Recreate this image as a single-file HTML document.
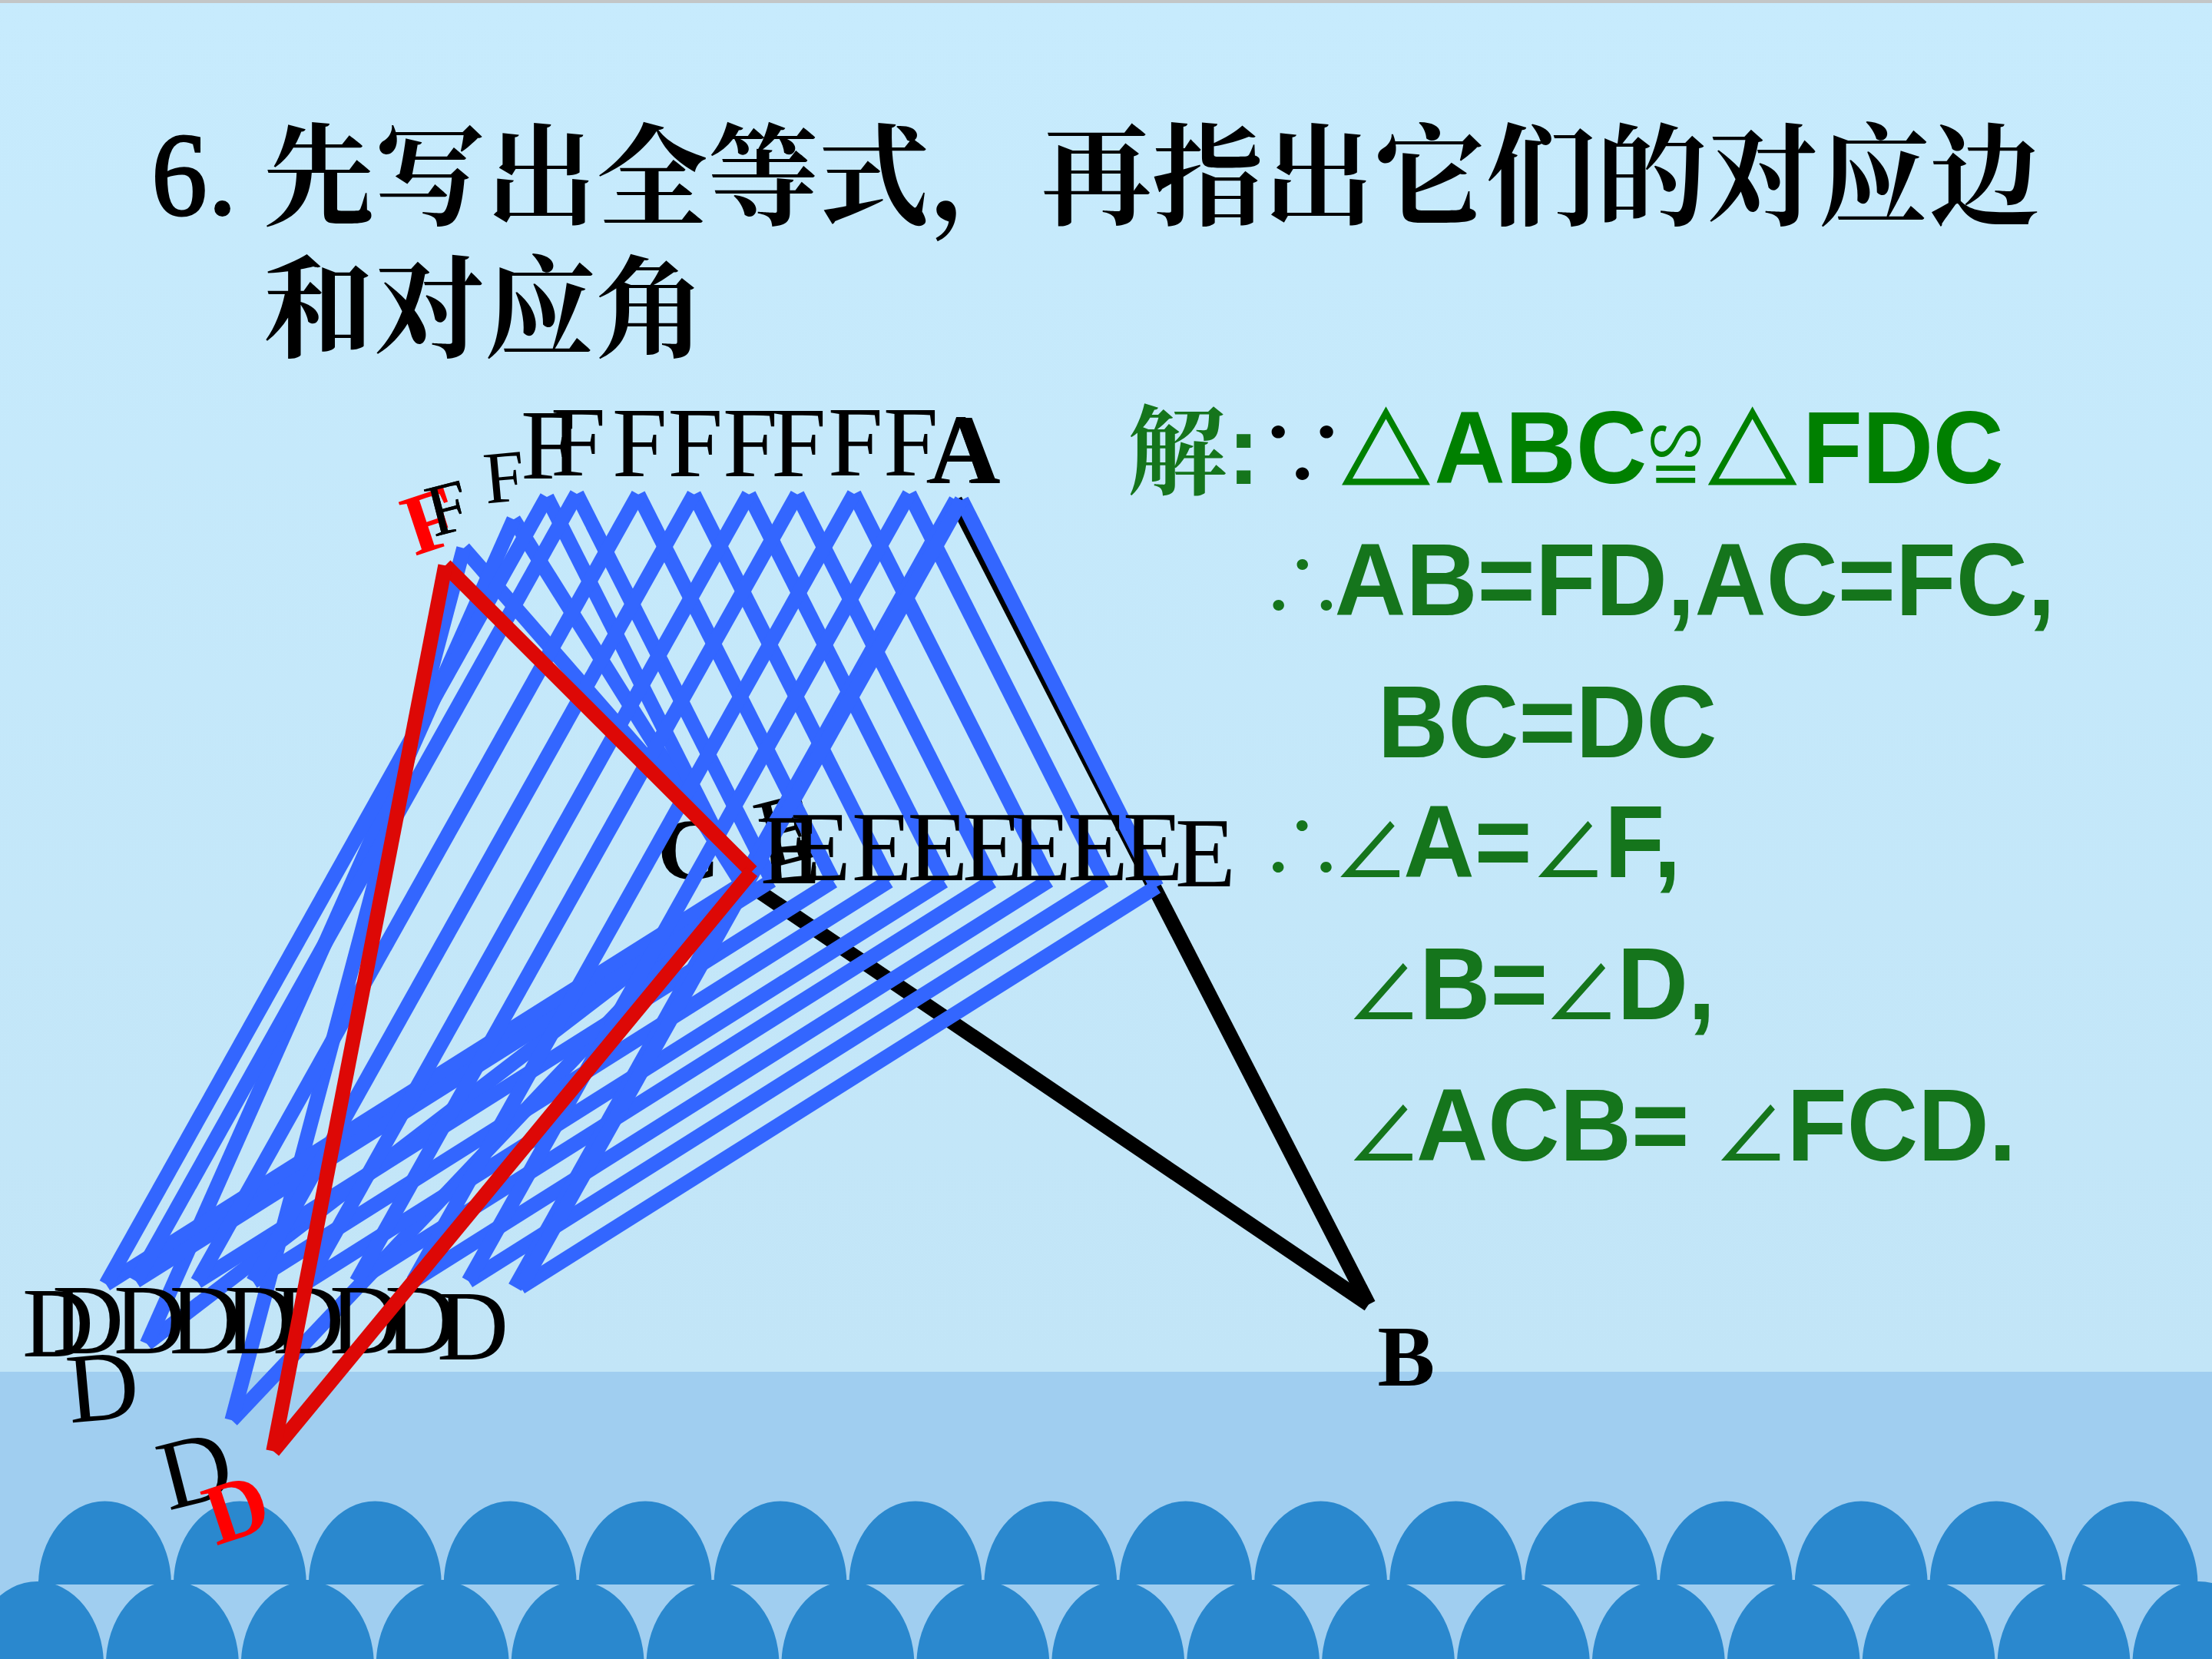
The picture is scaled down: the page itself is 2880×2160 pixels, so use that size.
<!DOCTYPE html>
<html lang="zh-CN"><head><meta charset="utf-8"><title>全等三角形 练习6</title>
<style>
html,body{margin:0;padding:0;width:2880px;height:2160px;overflow:hidden;background:#C6E9FB;}
svg{display:block}
text{white-space:pre}
</style></head><body>
<svg width="2880" height="2160" viewBox="0 0 2880 2160">
<defs><linearGradient id="sky" x1="0" y1="0" x2="0" y2="1"><stop offset="0" stop-color="#C7EBFD"/><stop offset="1" stop-color="#C2E5F7"/></linearGradient></defs>
<rect x="0" y="0" width="2880" height="1786" fill="url(#sky)"/>
<rect x="0" y="0" width="2880" height="4" fill="#C3C6C7"/>
<rect x="0" y="1786" width="2880" height="374" fill="#A0CEF0"/>
<path d="M-38.0 2165 V2167.5 A86.5 108.5 0 0 1 135.0 2167.5 V2165 Z M137.9 2165 V2167.5 A86.5 108.5 0 0 1 310.9 2167.5 V2165 Z M313.8 2165 V2167.5 A86.5 108.5 0 0 1 486.8 2167.5 V2165 Z M489.7 2165 V2167.5 A86.5 108.5 0 0 1 662.7 2167.5 V2165 Z M665.6 2165 V2167.5 A86.5 108.5 0 0 1 838.6 2167.5 V2165 Z M841.5 2165 V2167.5 A86.5 108.5 0 0 1 1014.5 2167.5 V2165 Z M1017.4 2165 V2167.5 A86.5 108.5 0 0 1 1190.4 2167.5 V2165 Z M1193.3 2165 V2167.5 A86.5 108.5 0 0 1 1366.3 2167.5 V2165 Z M1369.2 2165 V2167.5 A86.5 108.5 0 0 1 1542.2 2167.5 V2165 Z M1545.1 2165 V2167.5 A86.5 108.5 0 0 1 1718.1 2167.5 V2165 Z M1721.0 2165 V2167.5 A86.5 108.5 0 0 1 1894.0 2167.5 V2165 Z M1896.9 2165 V2167.5 A86.5 108.5 0 0 1 2069.9 2167.5 V2165 Z M2072.8 2165 V2167.5 A86.5 108.5 0 0 1 2245.8 2167.5 V2165 Z M2248.7 2165 V2167.5 A86.5 108.5 0 0 1 2421.7 2167.5 V2165 Z M2424.6 2165 V2167.5 A86.5 108.5 0 0 1 2597.6 2167.5 V2165 Z M2600.5 2165 V2167.5 A86.5 108.5 0 0 1 2773.5 2167.5 V2165 Z M2776.4 2165 V2167.5 A86.5 108.5 0 0 1 2949.4 2167.5 V2165 Z M2952.3 2165 V2167.5 A86.5 108.5 0 0 1 3125.3 2167.5 V2165 Z" fill="#2A88CE"/>
<path d="M50.0 2063 A86.5 108.5 0 0 1 223.0 2063 Z M225.9 2063 A86.5 108.5 0 0 1 398.9 2063 Z M401.8 2063 A86.5 108.5 0 0 1 574.8 2063 Z M577.7 2063 A86.5 108.5 0 0 1 750.7 2063 Z M753.6 2063 A86.5 108.5 0 0 1 926.6 2063 Z M929.5 2063 A86.5 108.5 0 0 1 1102.5 2063 Z M1105.4 2063 A86.5 108.5 0 0 1 1278.4 2063 Z M1281.3 2063 A86.5 108.5 0 0 1 1454.3 2063 Z M1457.2 2063 A86.5 108.5 0 0 1 1630.2 2063 Z M1633.1 2063 A86.5 108.5 0 0 1 1806.1 2063 Z M1809.0 2063 A86.5 108.5 0 0 1 1982.0 2063 Z M1984.9 2063 A86.5 108.5 0 0 1 2157.9 2063 Z M2160.8 2063 A86.5 108.5 0 0 1 2333.8 2063 Z M2336.7 2063 A86.5 108.5 0 0 1 2509.7 2063 Z M2512.6 2063 A86.5 108.5 0 0 1 2685.6 2063 Z M2688.5 2063 A86.5 108.5 0 0 1 2861.5 2063 Z" fill="#2A88CE"/>
<rect x="50" y="2057" width="2810" height="6" fill="#2A88CE"/>
<text x="343.3" y="281.5" font-family="'Liberation Serif', 'Noto Serif CJK SC', serif" font-weight="bold" font-size="144" letter-spacing="0.6" fill="#000">先写出全等式，再指出它们的对应边</text>
<text x="343.1" y="453.5" font-family="'Liberation Serif', 'Noto Serif CJK SC', serif" font-weight="bold" font-size="144" fill="#000">和对应角</text>
<text transform="matrix(1.4471 0 0 1.5403 197.29 279.46)" font-family="'Liberation Serif', 'Noto Serif CJK SC', serif" font-weight="normal" font-size="100" fill="#000" stroke="#000" stroke-width="2">6</text>
<text transform="matrix(1.2813 0 0 1.2875 273.53 279.67)" font-family="'Liberation Serif', 'Noto Serif CJK SC', serif" font-weight="bold" font-size="100" fill="#000">.</text>
<line x1="1243.5" y1="651.0" x2="1782.0" y2="1698.4" stroke="#000" stroke-width="19"/>
<line x1="985.0" y1="1158.5" x2="1782.0" y2="1698.4" stroke="#000" stroke-width="19"/>
<text x="856.1" y="1143.5" font-family="'Liberation Serif', 'Noto Serif CJK SC', serif" font-size="112" font-weight="bold" fill="#000">C</text>
<text x="1793.5" y="1803.5" font-family="'Liberation Serif', 'Noto Serif CJK SC', serif" font-size="112" font-weight="bold" fill="#000">B</text>
<line x1="603.7" y1="713.8" x2="974.6" y2="1138.6" stroke="#3366FF" stroke-width="19"/>
<line x1="974.6" y1="1138.6" x2="301.8" y2="1849.1" stroke="#3366FF" stroke-width="19"/>
<line x1="301.8" y1="1849.1" x2="603.7" y2="713.8" stroke="#3366FF" stroke-width="19"/>
<line x1="668.8" y1="676.2" x2="967.9" y2="1154.3" stroke="#3366FF" stroke-width="19"/>
<line x1="967.9" y1="1154.3" x2="191.2" y2="1749.5" stroke="#3366FF" stroke-width="19"/>
<line x1="191.2" y1="1749.5" x2="668.8" y2="676.2" stroke="#3366FF" stroke-width="19"/>
<text transform="translate(564.8 699.0) rotate(-14.36)" font-family="'Liberation Serif', 'Noto Serif CJK SC', serif" font-size="96" font-weight="normal" fill="#000">F</text>
<text transform="translate(997.6 1131.7) rotate(-14.36)" font-family="'Liberation Serif', 'Noto Serif CJK SC', serif" font-size="129" font-weight="normal" fill="#000">E</text>
<text transform="translate(219.4 1966.7) rotate(-14.36)" font-family="'Liberation Serif', 'Noto Serif CJK SC', serif" font-size="129" font-weight="normal" fill="#000">D</text>
<text transform="translate(632.7 655.4) rotate(-5.26)" font-family="'Liberation Serif', 'Noto Serif CJK SC', serif" font-size="96" font-weight="normal" fill="#000">F</text>
<text transform="translate(991.7 1151.1) rotate(-5.26)" font-family="'Liberation Serif', 'Noto Serif CJK SC', serif" font-size="129" font-weight="normal" fill="#000">E</text>
<text transform="translate(91.2 1852.6) rotate(-5.26)" font-family="'Liberation Serif', 'Noto Serif CJK SC', serif" font-size="129" font-weight="normal" fill="#000">D</text>
<line x1="712.0" y1="647.0" x2="966.0" y2="1150.5" stroke="#3366FF" stroke-width="19"/>
<line x1="966.0" y1="1150.5" x2="138.0" y2="1672.0" stroke="#3366FF" stroke-width="19"/>
<line x1="138.0" y1="1672.0" x2="712.0" y2="647.0" stroke="#3366FF" stroke-width="19"/>
<line x1="751.0" y1="643.0" x2="1005.0" y2="1146.5" stroke="#3366FF" stroke-width="19"/>
<line x1="1005.0" y1="1146.5" x2="177.0" y2="1668.0" stroke="#3366FF" stroke-width="19"/>
<line x1="177.0" y1="1668.0" x2="751.0" y2="643.0" stroke="#3366FF" stroke-width="19"/>
<line x1="831.0" y1="643.7" x2="1085.0" y2="1147.2" stroke="#3366FF" stroke-width="19"/>
<line x1="1085.0" y1="1147.2" x2="257.0" y2="1668.7" stroke="#3366FF" stroke-width="19"/>
<line x1="257.0" y1="1668.7" x2="831.0" y2="643.7" stroke="#3366FF" stroke-width="19"/>
<line x1="903.5" y1="643.7" x2="1157.5" y2="1147.2" stroke="#3366FF" stroke-width="19"/>
<line x1="1157.5" y1="1147.2" x2="329.5" y2="1668.7" stroke="#3366FF" stroke-width="19"/>
<line x1="329.5" y1="1668.7" x2="903.5" y2="643.7" stroke="#3366FF" stroke-width="19"/>
<line x1="975.0" y1="643.7" x2="1229.0" y2="1147.2" stroke="#3366FF" stroke-width="19"/>
<line x1="1229.0" y1="1147.2" x2="401.0" y2="1668.7" stroke="#3366FF" stroke-width="19"/>
<line x1="401.0" y1="1668.7" x2="975.0" y2="643.7" stroke="#3366FF" stroke-width="19"/>
<line x1="1038.0" y1="643.7" x2="1292.0" y2="1147.2" stroke="#3366FF" stroke-width="19"/>
<line x1="1292.0" y1="1147.2" x2="464.0" y2="1668.7" stroke="#3366FF" stroke-width="19"/>
<line x1="464.0" y1="1668.7" x2="1038.0" y2="643.7" stroke="#3366FF" stroke-width="19"/>
<line x1="1112.0" y1="643.0" x2="1366.0" y2="1146.5" stroke="#3366FF" stroke-width="19"/>
<line x1="1366.0" y1="1146.5" x2="538.0" y2="1668.0" stroke="#3366FF" stroke-width="19"/>
<line x1="538.0" y1="1668.0" x2="1112.0" y2="643.0" stroke="#3366FF" stroke-width="19"/>
<line x1="1184.0" y1="643.0" x2="1438.0" y2="1146.5" stroke="#3366FF" stroke-width="19"/>
<line x1="1438.0" y1="1146.5" x2="610.0" y2="1668.0" stroke="#3366FF" stroke-width="19"/>
<line x1="610.0" y1="1668.0" x2="1184.0" y2="643.0" stroke="#3366FF" stroke-width="19"/>
<line x1="1244.5" y1="651.0" x2="670.5" y2="1676.0" stroke="#3366FF" stroke-width="19"/>
<line x1="1252.0" y1="651.0" x2="1506.0" y2="1154.5" stroke="#3366FF" stroke-width="19"/>
<line x1="1506.0" y1="1154.5" x2="678.0" y2="1676.0" stroke="#3366FF" stroke-width="19"/>
<line x1="678.0" y1="1676.0" x2="1252.0" y2="651.0" stroke="#3366FF" stroke-width="19"/>
<text x="678.0" y="623.0" font-family="'Liberation Serif', 'Noto Serif CJK SC', serif" font-size="129" font-weight="normal" fill="#000">F</text>
<text x="990.0" y="1149.5" font-family="'Liberation Serif', 'Noto Serif CJK SC', serif" font-size="129" font-weight="normal" fill="#000">E</text>
<text x="29.0" y="1765.5" font-family="'Liberation Serif', 'Noto Serif CJK SC', serif" font-size="129" font-weight="normal" fill="#000">D</text>
<text x="717.0" y="619.0" font-family="'Liberation Serif', 'Noto Serif CJK SC', serif" font-size="129" font-weight="normal" fill="#000">F</text>
<text x="1029.0" y="1145.5" font-family="'Liberation Serif', 'Noto Serif CJK SC', serif" font-size="129" font-weight="normal" fill="#000">E</text>
<text x="68.0" y="1761.5" font-family="'Liberation Serif', 'Noto Serif CJK SC', serif" font-size="129" font-weight="normal" fill="#000">D</text>
<text x="797.0" y="619.7" font-family="'Liberation Serif', 'Noto Serif CJK SC', serif" font-size="129" font-weight="normal" fill="#000">F</text>
<text x="1109.0" y="1146.2" font-family="'Liberation Serif', 'Noto Serif CJK SC', serif" font-size="129" font-weight="normal" fill="#000">E</text>
<text x="148.0" y="1762.2" font-family="'Liberation Serif', 'Noto Serif CJK SC', serif" font-size="129" font-weight="normal" fill="#000">D</text>
<text x="869.5" y="619.7" font-family="'Liberation Serif', 'Noto Serif CJK SC', serif" font-size="129" font-weight="normal" fill="#000">F</text>
<text x="1181.5" y="1146.2" font-family="'Liberation Serif', 'Noto Serif CJK SC', serif" font-size="129" font-weight="normal" fill="#000">E</text>
<text x="220.5" y="1762.2" font-family="'Liberation Serif', 'Noto Serif CJK SC', serif" font-size="129" font-weight="normal" fill="#000">D</text>
<text x="941.0" y="619.7" font-family="'Liberation Serif', 'Noto Serif CJK SC', serif" font-size="129" font-weight="normal" fill="#000">F</text>
<text x="1253.0" y="1146.2" font-family="'Liberation Serif', 'Noto Serif CJK SC', serif" font-size="129" font-weight="normal" fill="#000">E</text>
<text x="292.0" y="1762.2" font-family="'Liberation Serif', 'Noto Serif CJK SC', serif" font-size="129" font-weight="normal" fill="#000">D</text>
<text x="1004.0" y="619.7" font-family="'Liberation Serif', 'Noto Serif CJK SC', serif" font-size="129" font-weight="normal" fill="#000">F</text>
<text x="1316.0" y="1146.2" font-family="'Liberation Serif', 'Noto Serif CJK SC', serif" font-size="129" font-weight="normal" fill="#000">E</text>
<text x="355.0" y="1762.2" font-family="'Liberation Serif', 'Noto Serif CJK SC', serif" font-size="129" font-weight="normal" fill="#000">D</text>
<text x="1078.0" y="619.0" font-family="'Liberation Serif', 'Noto Serif CJK SC', serif" font-size="129" font-weight="normal" fill="#000">F</text>
<text x="1390.0" y="1145.5" font-family="'Liberation Serif', 'Noto Serif CJK SC', serif" font-size="129" font-weight="normal" fill="#000">E</text>
<text x="429.0" y="1761.5" font-family="'Liberation Serif', 'Noto Serif CJK SC', serif" font-size="129" font-weight="normal" fill="#000">D</text>
<text x="1150.0" y="619.0" font-family="'Liberation Serif', 'Noto Serif CJK SC', serif" font-size="129" font-weight="normal" fill="#000">F</text>
<text x="1462.0" y="1145.5" font-family="'Liberation Serif', 'Noto Serif CJK SC', serif" font-size="129" font-weight="normal" fill="#000">E</text>
<text x="501.0" y="1761.5" font-family="'Liberation Serif', 'Noto Serif CJK SC', serif" font-size="129" font-weight="normal" fill="#000">D</text>
<text x="1530.0" y="1153.5" font-family="'Liberation Serif', 'Noto Serif CJK SC', serif" font-size="129" font-weight="normal" fill="#000">E</text>
<text x="569.0" y="1769.5" font-family="'Liberation Serif', 'Noto Serif CJK SC', serif" font-size="129" font-weight="normal" fill="#000">D</text>
<text x="1205.5" y="628.5" font-family="'Liberation Serif', 'Noto Serif CJK SC', serif" font-size="129" font-weight="normal" fill="#000">A</text>
<text x="1209.4" y="628.5" font-family="'Liberation Serif', 'Noto Serif CJK SC', serif" font-size="129" font-weight="bold" fill="#000">A</text>
<line x1="579.8" y1="736.2" x2="978.8" y2="1134.8" stroke="#DD0806" stroke-width="19"/>
<line x1="978.8" y1="1134.8" x2="355.8" y2="1889.4" stroke="#DD0806" stroke-width="19"/>
<line x1="355.8" y1="1889.4" x2="579.8" y2="736.2" stroke="#DD0806" stroke-width="19"/>
<text transform="translate(540.0 724.1) rotate(-18.26)" font-family="'Liberation Serif', 'Noto Serif CJK SC', serif" font-size="112" font-weight="bold" fill="#FF0000">F</text>
<text transform="translate(281.6 2012.4) rotate(-18.26)" font-family="'Liberation Serif', 'Noto Serif CJK SC', serif" font-size="112" font-weight="bold" fill="#FF0000">D</text>
<text transform="translate(564.8 699.0) rotate(-14.36)" font-family="'Liberation Serif', 'Noto Serif CJK SC', serif" font-size="96" font-weight="normal" fill="#000">F</text>
<text transform="matrix(1.2917 0 0 1.2698 1468.12 633.57)" font-family="'Liberation Serif', 'Noto Serif CJK SC', serif" font-weight="bold" font-size="100" fill="#15751C">解</text>
<text transform="matrix(1.2857 0 0 1.2863 1597.79 630.30)" font-family="'Liberation Sans', 'Noto Sans CJK SC', sans-serif" font-weight="bold" font-size="100" fill="#15751C">:</text>
<text transform="matrix(1.1896 0 0 1.1403 1636.27 631.81)" font-family="'Liberation Sans', 'Noto Sans CJK SC', sans-serif" font-weight="400" font-size="100" fill="#000">∵</text>
<text transform="matrix(1.1702 0 0 1.1975 1746.09 631.30)" font-family="'Liberation Sans', 'Noto Sans CJK SC', sans-serif" font-weight="bold" font-size="100" fill="#008000" stroke="#008000" stroke-width="2.4" stroke-linejoin="miter">△</text>
<text transform="matrix(1.2773 0 0 1.3300 1867.51 629.30)" font-family="'Liberation Sans', 'Noto Sans CJK SC', sans-serif" font-weight="bold" font-size="100" fill="#008000">ABC</text>
<text transform="matrix(0.7000 0 0 1.0221 2146.75 631.34)" font-family="'Liberation Sans', 'Noto Sans CJK SC', sans-serif" font-weight="400" font-size="100" fill="#008000">≌</text>
<text transform="matrix(1.1787 0 0 1.1963 2222.86 631.20)" font-family="'Liberation Sans', 'Noto Sans CJK SC', sans-serif" font-weight="bold" font-size="100" fill="#008000" stroke="#008000" stroke-width="2.4" stroke-linejoin="miter">△</text>
<text transform="matrix(1.2735 0 0 1.3300 2347.12 629.30)" font-family="'Liberation Sans', 'Noto Sans CJK SC', sans-serif" font-weight="bold" font-size="100" fill="#008000">FDC</text>
<text transform="matrix(1.1250 0 0 1.0911 1639.50 801.59)" font-family="'Liberation Sans', 'Noto Sans CJK SC', sans-serif" font-weight="300" font-size="100" fill="#15751C">∴</text>
<text transform="matrix(1.2894 0 0 1.3300 1737.38 801.00)" font-family="'Liberation Sans', 'Noto Sans CJK SC', sans-serif" font-weight="bold" font-size="100" fill="#15751C">AB=FD,AC=FC,</text>
<text transform="matrix(1.2716 0 0 1.3300 1793.73 985.50)" font-family="'Liberation Sans', 'Noto Sans CJK SC', sans-serif" font-weight="bold" font-size="100" fill="#15751C">BC=DC</text>
<text transform="matrix(1.1265 0 0 1.1041 1639.08 1143.18)" font-family="'Liberation Sans', 'Noto Sans CJK SC', sans-serif" font-weight="300" font-size="100" fill="#15751C">∴</text>
<text transform="matrix(0.9771 0 0 1.0962 1735.83 1145.39)" font-family="'Liberation Sans', 'Noto Sans CJK SC', sans-serif" font-weight="500" font-size="100" fill="#15751C">∠</text>
<text transform="matrix(1 0 0 1.0400 1827.20 1142.10)" font-family="'Liberation Sans', 'Noto Sans CJK SC', sans-serif" font-weight="bold" font-size="128" fill="#15751C">A=</text>
<text transform="matrix(0.9771 0 0 1.0962 1993.33 1145.39)" font-family="'Liberation Sans', 'Noto Sans CJK SC', sans-serif" font-weight="500" font-size="100" fill="#15751C">∠</text>
<text transform="matrix(1 0 0 1.0400 2088.88 1142.10)" font-family="'Liberation Sans', 'Noto Sans CJK SC', sans-serif" font-weight="bold" font-size="128" fill="#15751C">F,</text>
<text transform="matrix(0.9694 0 0 1.0962 1753.31 1329.99)" font-family="'Liberation Sans', 'Noto Sans CJK SC', sans-serif" font-weight="500" font-size="100" fill="#15751C">∠</text>
<text transform="matrix(1 0 0 1.0400 1848.08 1326.70)" font-family="'Liberation Sans', 'Noto Sans CJK SC', sans-serif" font-weight="bold" font-size="128" fill="#15751C">B=</text>
<text transform="matrix(0.9771 0 0 1.0962 2010.13 1329.99)" font-family="'Liberation Sans', 'Noto Sans CJK SC', sans-serif" font-weight="500" font-size="100" fill="#15751C">∠</text>
<text transform="matrix(1 0 0 1.0400 2105.38 1326.70)" font-family="'Liberation Sans', 'Noto Sans CJK SC', sans-serif" font-weight="bold" font-size="128" fill="#15751C">D,</text>
<text transform="matrix(0.9694 0 0 1.0947 1753.21 1513.88)" font-family="'Liberation Sans', 'Noto Sans CJK SC', sans-serif" font-weight="500" font-size="100" fill="#15751C">∠</text>
<text transform="matrix(1.2920 0 0 1.3300 1844.07 1510.60)" font-family="'Liberation Sans', 'Noto Sans CJK SC', sans-serif" font-weight="bold" font-size="100" fill="#15751C">ACB=</text>
<text transform="matrix(0.9707 0 0 1.0947 2231.49 1513.88)" font-family="'Liberation Sans', 'Noto Sans CJK SC', sans-serif" font-weight="500" font-size="100" fill="#15751C">∠</text>
<text transform="matrix(1.2805 0 0 1.3300 2326.48 1510.60)" font-family="'Liberation Sans', 'Noto Sans CJK SC', sans-serif" font-weight="bold" font-size="100" fill="#15751C">FCD.</text>
</svg>
</body></html>
